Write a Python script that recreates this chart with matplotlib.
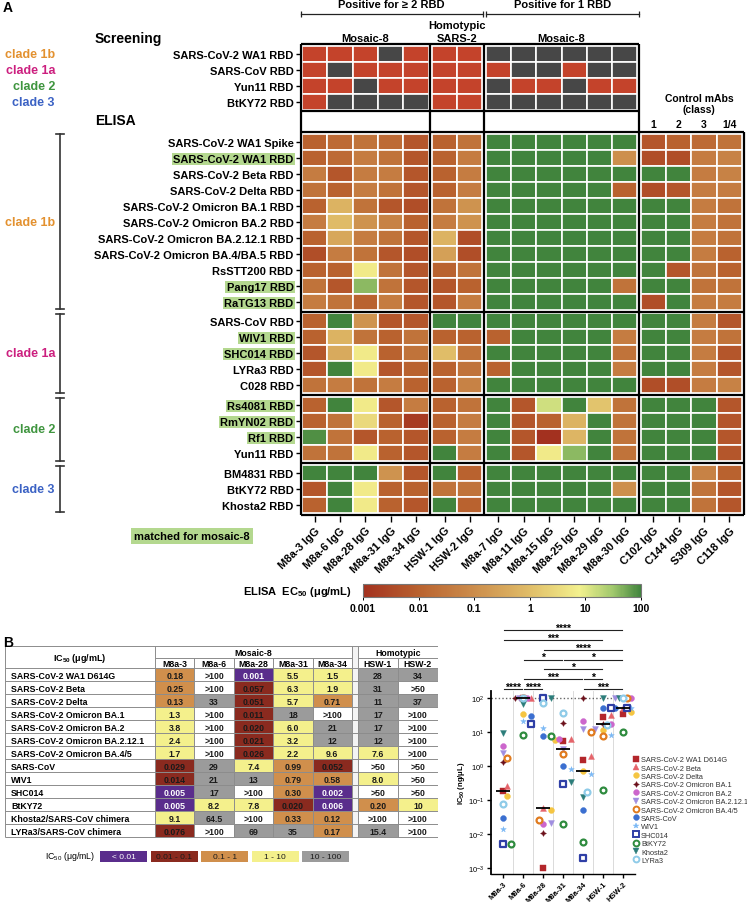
import numpy as np
import matplotlib
matplotlib.use('Agg')
import matplotlib.pyplot as plt
import matplotlib.transforms as mtransforms
from matplotlib.patches import Rectangle
from matplotlib.colors import LinearSegmentedColormap, LogNorm
from matplotlib.cm import ScalarMappable
from matplotlib.lines import Line2D

plt.rcParams['font.family'] = ['Liberation Sans', 'DejaVu Sans']
plt.rcParams['mathtext.fontset'] = 'custom'
plt.rcParams['mathtext.rm'] = 'Liberation Sans'
plt.rcParams['mathtext.bf'] = 'Liberation Sans:bold'
plt.rcParams['mathtext.it'] = 'Liberation Sans:italic'

# ---------------- panel A data ----------------
antibodies = ['M8a-3', 'M8a-6', 'M8a-28', 'M8a-31', 'M8a-34', 'HSW-1', 'HSW-2',
              'M8a-7', 'M8a-11', 'M8a-15', 'M8a-25', 'M8a-29', 'M8a-30',
              'C102', 'C144', 'S309', 'C118']
col_group = [0, 0, 0, 0, 0, 1, 1, 2, 2, 2, 2, 2, 2, 3, 3, 3, 3]
control_class = ['1', '2', '3', '1/4']

screen_rbds = ['SARS-CoV-2 WA1 RBD', 'SARS-CoV RBD', 'Yun11 RBD', 'BtKY72 RBD']
screen_clades = ['clade 1b', 'clade 1a', 'clade 2', 'clade 3']
# 1 = positive in screening, 0 = negative
screen_pos = [
    [1, 1, 1, 0, 1, 1, 1, 0, 0, 0, 0, 0, 0],
    [1, 0, 1, 1, 1, 1, 1, 1, 0, 0, 1, 0, 0],
    [1, 1, 0, 1, 1, 1, 1, 0, 1, 1, 0, 1, 1],
    [1, 0, 0, 0, 0, 1, 1, 0, 0, 0, 0, 0, 0],
]

clade_names = ['clade 1b', 'clade 1a', 'clade 2', 'clade 3']
clade_colors = ['#e3912f', '#cc1f7f', '#3f953f', '#3b62c4']

clade1b_rbds = ['SARS-CoV-2 WA1 Spike', 'SARS-CoV-2 WA1 RBD', 'SARS-CoV-2 Beta RBD',
                'SARS-CoV-2 Delta RBD', 'SARS-CoV-2 Omicron BA.1 RBD',
                'SARS-CoV-2 Omicron BA.2 RBD', 'SARS-CoV-2 Omicron BA.2.12.1 RBD',
                'SARS-CoV-2 Omicron BA.4/BA.5 RBD', 'RsSTT200 RBD', 'Pang17 RBD', 'RaTG13 RBD']
clade1a_rbds = ['SARS-CoV RBD', 'WIV1 RBD', 'SHC014 RBD', 'LYRa3 RBD', 'C028 RBD']
clade2_rbds = ['Rs4081 RBD', 'RmYN02 RBD', 'Rf1 RBD', 'Yun11 RBD']
clade3_rbds = ['BM4831 RBD', 'BtKY72 RBD', 'Khosta2 RBD']
matched_rbds = ['SARS-CoV-2 WA1 RBD', 'Pang17 RBD', 'RaTG13 RBD', 'WIV1 RBD', 'SHC014 RBD',
                'Rs4081 RBD', 'RmYN02 RBD', 'Rf1 RBD']

NB = 100  # no binding (>100 ug/mL)
ec50_clade1b = [
    [0.01, 0.016, 0.025, 0.016, 0.006, 0.01, 0.025, NB, NB, NB, NB, NB, NB, 0.006, 0.01, 0.016, 0.025],
    [0.01, 0.016, 0.04, 0.025, 0.006, 0.01, 0.04, NB, NB, NB, NB, NB, 0.11, 0.004, 0.004, 0.04, 0.056],
    [0.04, 0.006, 0.04, 0.04, 0.006, 0.01, 0.04, NB, NB, NB, NB, NB, NB, NB, NB, 0.04, 0.056],
    [0.025, 0.01, 0.04, 0.025, 0.006, 0.01, 0.04, NB, NB, NB, NB, NB, 0.01, 0.004, 0.006, 0.04, 0.04],
    [0.01, 0.6, 0.025, 0.006, 0.004, 0.025, 0.13, NB, NB, NB, NB, NB, NB, NB, NB, 0.04, 0.025],
    [0.04, 0.9, 0.13, 0.056, 0.01, 0.04, 0.13, NB, NB, NB, NB, NB, NB, NB, NB, 0.04, 0.025],
    [0.01, 0.35, 0.04, 0.025, 0.006, 0.6, 0.004, NB, NB, NB, NB, NB, NB, NB, NB, 0.04, 0.025],
    [0.004, 0.04, 0.025, 0.006, 0.004, 0.25, 0.004, NB, NB, NB, NB, NB, NB, NB, NB, 0.04, 0.01],
    [0.01, 0.01, 6, 0.025, 0.006, 0.01, 0.025, NB, NB, NB, NB, NB, NB, NB, 0.006, 0.025, 0.01],
    [0.025, 0.006, 40, 0.025, 0.006, 0.006, 0.01, NB, NB, NB, NB, NB, 0.025, NB, NB, 0.025, 0.025],
    [0.04, 0.025, 0.01, 0.04, 0.006, 0.006, 0.04, NB, NB, NB, NB, NB, NB, 0.004, NB, 0.04, 0.04],
]
ec50_clade1a = [
    [0.01, NB, 0.13, 0.006, 0.006, NB, NB, NB, NB, NB, NB, NB, NB, NB, NB, 0.04, 0.006],
    [0.01, 0.6, 0.025, 0.01, 0.025, 0.01, 0.01, 0.01, NB, NB, NB, NB, 0.04, NB, NB, 0.04, 0.025],
    [0.006, 0.4, 6, 0.01, 0.025, 1.0, 0.025, NB, NB, NB, NB, NB, 0.025, NB, NB, 0.04, 0.006],
    [0.006, NB, 6, 0.006, 0.01, 0.01, 0.025, 0.01, NB, NB, NB, NB, 0.04, NB, NB, 0.04, 0.006],
    [0.025, 0.04, 0.025, 0.04, 0.01, 0.01, 0.056, NB, NB, NB, NB, NB, NB, 0.004, 0.004, 0.04, 0.056],
]
ec50_clade2 = [
    [0.01, NB, 6, 0.006, 0.04, 0.01, 0.025, NB, 0.006, 14, NB, 1.3, 0.025, NB, NB, NB, 0.006],
    [0.01, 0.025, 3, 0.01, 0.0016, 0.01, 0.04, NB, 0.006, 0.01, 0.6, NB, 0.025, NB, NB, NB, 0.006],
    [80, 0.025, 0.006, 0.01, 0.006, 0.01, 0.04, NB, 0.006, 0.001, 0.7, NB, 0.025, NB, NB, NB, 0.006],
    [0.025, 0.025, 6, 0.01, 0.006, NB, 0.04, NB, 0.006, 6, 40, NB, 0.025, NB, NB, NB, 0.006],
]
ec50_clade3 = [
    [NB, NB, NB, 0.13, 0.006, NB, 0.01, NB, NB, NB, NB, NB, NB, NB, NB, 0.056, 0.01],
    [0.006, NB, 6, 0.01, 0.01, 0.025, 0.025, NB, NB, NB, NB, NB, 0.11, NB, NB, 0.025, 0.006],
    [0.01, NB, 6, 0.01, 0.006, NB, 0.01, NB, NB, NB, NB, NB, NB, NB, NB, 0.025, 0.006],
]

# ---------------- panel B data ----------------
viruses = ['SARS-CoV-2 WA1 D614G', 'SARS-CoV-2 Beta', 'SARS-CoV-2 Delta',
           'SARS-CoV-2 Omicron BA.1', 'SARS-CoV-2 Omicron BA.2',
           'SARS-CoV-2 Omicron BA.2.12.1', 'SARS-CoV-2 Omicron BA.4/5', 'SARS-CoV',
           'WIV1', 'SHC014', 'BtKY72', 'Khosta2/SARS-CoV chimera', 'LYRa3/SARS-CoV chimera']
legend_names = ['SARS-CoV-2 WA1 D614G', 'SARS-CoV-2 Beta', 'SARS-CoV-2 Delta',
                'SARS-CoV-2 Omicron BA.1', 'SARS-CoV-2 Omicron BA.2',
                'SARS-CoV-2 Omicron BA.2.12.1', 'SARS-CoV-2 Omicron BA.4/5', 'SARS-CoV',
                'WIV1', 'SHC014', 'BtKY72', 'Khosta2', 'LYRa3']
neut_abs = ['M8a-3', 'M8a-6', 'M8a-28', 'M8a-31', 'M8a-34', 'HSW-1', 'HSW-2']
ic50_m8a3 = ['0.18', '0.25', '0.13', '1.3', '3.8', '2.4', '1.7', '0.029', '0.014', '0.005', '0.005', '9.1', '0.076']
ic50_m8a6 = ['>100', '>100', '33', '>100', '>100', '>100', '>100', '29', '21', '17', '8.2', '64.5', '>100']
ic50_m8a28 = ['0.001', '0.057', '0.051', '0.011', '0.020', '0.021', '0.026', '7.4', '13', '>100', '7.8', '>100', '69']
ic50_m8a31 = ['5.5', '6.3', '5.7', '18', '6.0', '3.2', '2.2', '0.99', '0.79', '0.30', '0.020', '0.33', '35']
ic50_m8a34 = ['1.5', '1.9', '0.71', '>100', '21', '12', '9.6', '0.052', '0.58', '0.002', '0.006', '0.12', '0.17']
ic50_hsw1 = ['28', '31', '11', '17', '17', '12', '7.6', '>50', '8.0', '>50', '0.20', '>100', '15.4']
ic50_hsw2 = ['34', '>50', '37', '>100', '>100', '>100', '>100', '>50', '>50', '>50', '10', '>100', '>100']
ic50_cols = [ic50_m8a3, ic50_m8a6, ic50_m8a28, ic50_m8a31, ic50_m8a34, ic50_hsw1, ic50_hsw2]

bin_labels = ['< 0.01', '0.01 - 0.1', '0.1 - 1', '1 - 10', '10 - 100']
bin_colors = ['#5a2d8c', '#8a2a1f', '#d08f4c', '#f4f08c', '#9b9b9b']

# significance bars: (level from bottom, col i, col j, stars)
sig_bars = [(0, 0, 1, '****'), (0, 1, 2, '****'), (0, 4, 6, '***'),
            (1, 1, 4, '***'), (1, 4, 5, '*'), (2, 2, 5, '*'),
            (3, 1, 3, '*'), (3, 3, 6, '*'), (4, 2, 6, '****'),
            (5, 0, 5, '***'), (6, 0, 6, '****')]

# marker styles for the scatter: marker, face, edge
marker_styles = [('s', '#b3262b', '#b3262b'), ('^', '#e5646a', '#e5646a'),
                 ('o', '#f5c542', '#f5c542'), ((4, 1, 0), '#6b0f1a', '#6b0f1a'),
                 ('o', '#cc66cc', '#cc66cc'), ('v', '#a08ee0', '#a08ee0'),
                 ('o', 'white', '#e07b1f'), ('o', '#3b6fd0', '#3b6fd0'),
                 ('*', '#7ab8f5', '#7ab8f5'), ('s', 'white', '#2f3fa6'),
                 ('o', 'white', '#2e8b3e'), ('v', '#2c7d7a', '#2c7d7a'),
                 ('o', 'white', '#8fcbe8')]

# ---------------- figure ----------------
W, H = 747, 903
fig = plt.figure(figsize=(W / 100, H / 100), dpi=100)


def px_axes(x0, y0, x1, y1):
    return fig.add_axes([x0 / W, 1 - y1 / H, (x1 - x0) / W, (y1 - y0) / H])


ec50_cmap = LinearSegmentedColormap.from_list(
    'ec50', [(0.0, '#a3311f'), (0.2, '#b9622f'), (0.4, '#cc8d4c'), (0.6, '#e0bd68'),
             (0.78, '#f3f18e'), (0.9, '#a0c86c'), (1.0, '#41843d')])
ec50_norm = LogNorm(1e-3, 1e2)

# column positions with small gaps between groups
gap = 0.13
colx = [i + gap * g for i, g in enumerate(col_group)]
bounds = [colx[0] - gap / 2]
for i in range(1, len(colx)):
    if col_group[i] != col_group[i - 1]:
        bounds.append((colx[i - 1] + 1 + colx[i]) / 2)
bounds.append(colx[-1] + 1 + gap / 2)

axh = px_axes(300.5, 43.8, 743.5, 517.4)
axh.set_xlim(bounds[0], bounds[-1])
axh.set_ylim(29.4, -0.2)
for s in axh.spines.values():
    s.set_visible(False)

# screening cells
for r, row in enumerate(screen_pos):
    for c, v in enumerate(row):
        axh.add_patch(Rectangle((colx[c], r), 1, 1, facecolor='#c4432b' if v else '#474747',
                                edgecolor='white', lw=1.2))

# ELISA cells
elisa_groups = [(clade1b_rbds, ec50_clade1b), (clade1a_rbds, ec50_clade1a),
                (clade2_rbds, ec50_clade2), (clade3_rbds, ec50_clade3)]
elisa_top = 5.48
rgap = 0.23
ytick_pos = [r + 0.5 for r in range(len(screen_rbds))]
ytick_lab = list(screen_rbds)
group_spans = []
n = 0
for g, (names, vals) in enumerate(elisa_groups):
    y_first = elisa_top + n + rgap * g
    for r, row in enumerate(vals):
        y = y_first + r
        for c, v in enumerate(row):
            axh.add_patch(Rectangle((colx[c], y), 1, 1, facecolor=ec50_cmap(ec50_norm(v)),
                                    edgecolor='white', lw=1.2))
        ytick_pos.append(y + 0.5)
        ytick_lab.append(names[r])
    group_spans.append((y_first, y_first + len(vals)))
    n += len(vals)

# black frames
lw_box = 1.6
axh.vlines(bounds[:4], -0.115, group_spans[0][0] - rgap / 2, color='black', lw=lw_box, clip_on=False)
axh.hlines([-0.115, 4.06], bounds[0], bounds[3], color='black', lw=lw_box, clip_on=False)
hl = [group_spans[0][0] - rgap / 2] + [sp[1] + rgap / 2 for sp in group_spans]
axh.vlines(bounds, hl[0], hl[-1], color='black', lw=lw_box, clip_on=False)
axh.hlines(hl, bounds[0], bounds[-1], color='black', lw=lw_box, clip_on=False)

# row labels
axh.set_yticks(ytick_pos)
axh.set_yticklabels(ytick_lab)
axh.tick_params(axis='y', length=3.5, width=1, pad=1.5, labelsize=8)
for k, lab in enumerate(axh.get_yticklabels()):
    lab.set_fontweight('bold')
    if k >= len(screen_rbds) and ytick_lab[k] in matched_rbds:
        lab.set_bbox(dict(facecolor='#b4d88f', edgecolor='none', pad=0.8))

axh.set_xticks([x + 0.5 for x in colx])
axh.set_xticklabels([a + ' IgG' for a in antibodies], rotation=45, ha='right',
                    rotation_mode='anchor', fontweight='bold')
axh.tick_params(axis='x', length=4, width=1, pad=2, labelsize=8)

# top annotations
def bracket(x0, x1, y, text):
    axh.plot([x0, x1], [y, y], color='#222', lw=0.9, clip_on=False)
    axh.vlines([x0, x1], y - 0.2, y + 0.2, color='#222', lw=0.9, clip_on=False)
    axh.text((x0 + x1) / 2, y - 0.6, text, ha='center', va='center', fontsize=8,
             fontweight='bold')


bracket(bounds[0], bounds[2] - 0.06, -2.0, 'Positive for ≥ 2 RBD')
bracket(bounds[2] + 0.06, bounds[3], -2.0, 'Positive for 1 RBD')
homo_x = (colx[5] + colx[6] + 1) / 2
axh.text(homo_x, -1.3, 'Homotypic', ha='center', va='center', fontsize=8, fontweight='bold')
axh.text(homo_x, -0.5, 'SARS-2', ha='center', va='center', fontsize=8, fontweight='bold')
axh.text((colx[0] + colx[4] + 1) / 2, -0.5, 'Mosaic-8', ha='center', va='center',
         fontsize=8, fontweight='bold')
axh.text((colx[7] + colx[12] + 1) / 2, -0.5, 'Mosaic-8', ha='center', va='center',
         fontsize=8, fontweight='bold')
ctrl_x = (colx[13] + colx[16] + 1) / 2 + 0.3
axh.text(ctrl_x, 3.25, 'Control mAbs', ha='center', va='center', fontsize=7.5, fontweight='bold')
axh.text(ctrl_x, 3.95, '(class)', ha='center', va='center', fontsize=7.5, fontweight='bold')
for k, cl in enumerate(control_class):
    axh.text(colx[13 + k] + 0.5, 4.875, cl, ha='center', va='center', fontsize=7.5,
             fontweight='bold')

fig.text(3 / W, 1 - 8 / H, 'A', fontsize=10, fontweight='bold', va='center')
fig.text(95 / W, 1 - 39 / H, 'Screening', fontsize=10, fontweight='bold', va='center')
fig.text(95 / W, 1 - 121 / H, 'ELISA', fontsize=10, fontweight='bold', va='center')

tr = mtransforms.blended_transform_factory(fig.transFigure, axh.transData)
for r, cl in enumerate(screen_clades):
    k = clade_names.index(cl)
    axh.text(55 / W, r + 0.5, cl, transform=tr, fontsize=9, fontweight='bold',
             color=clade_colors[k], ha='right', va='center')
xb = 59.5 / W
for k, (y0, y1) in enumerate(group_spans):
    y0b = y0 if k == 0 else y0 + 0.05
    axh.plot([xb, xb], [y0b, y1 - 0.02], transform=tr, color='#333', lw=1.2, clip_on=False)
    axh.plot([xb - 4 / W, xb + 4 / W], [y0b, y0b], transform=tr, color='#333', lw=1.2, clip_on=False)
    axh.plot([xb - 4 / W, xb + 4 / W], [y1 - 0.02, y1 - 0.02], transform=tr, color='#333', lw=1.2,
             clip_on=False)
    axh.text(55 / W, (y0 + y1) / 2, clade_names[k], transform=tr, fontsize=9,
             fontweight='bold', color=clade_colors[k], ha='right', va='center')

fig.text(192 / W, 1 - 537 / H, 'matched for mosaic-8', ha='center', va='center', fontsize=8,
         fontweight='bold', bbox=dict(facecolor='#b4d88f', edgecolor='none', pad=2.5))

# colour bar
cax = px_axes(363, 585, 641, 598)
cb = fig.colorbar(ScalarMappable(norm=ec50_norm, cmap=ec50_cmap), cax=cax, orientation='horizontal')
cb.set_ticks([1e-3, 1e-2, 1e-1, 1, 10, 100])
cb.set_ticklabels(['0.001', '0.01', '0.1', '1', '10', '100'])
cax.minorticks_off()
cax.tick_params(labelsize=7.5, length=2.5, width=0.7, pad=2)
for lab in cax.get_xticklabels():
    lab.set_fontweight('bold')
cb.outline.set_edgecolor('#777')
cb.outline.set_linewidth(0.8)
fig.text(352 / W, 1 - 592 / H, r'ELISA  EC$_{\mathbf{50}}$ (μg/mL)', ha='right',
         va='center', fontsize=8, fontweight='bold')

# ---------------- panel B table ----------------
fig.text(3 / W, 1 - 643 / H, 'B', fontsize=10, fontweight='bold', va='center')


def parse_ic50(s):
    return float(s.lstrip('>'))


def bin_color(s):
    if s.startswith('>'):
        return 'white'
    v = float(s)
    if v < 0.01:
        return bin_colors[0]
    if v < 0.1:
        return bin_colors[1]
    if v < 1:
        return bin_colors[2]
    if v <= 10:
        return bin_colors[3]
    return bin_colors[4]


axt = px_axes(5, 647, 438, 866)
axt.set_xlim(0, 433)
axt.set_ylim(219, 0)
axt.axis('off')
lab_w, m_w, gap_w, h_w = 150, 39.4, 6, 40
col_x0 = [lab_w + m_w * k for k in range(5)] + [lab_w + 5 * m_w + gap_w + h_w * k for k in range(2)]
col_w = [m_w] * 5 + [h_w] * 2
h1, h2, rh = 12, 22.3, 13.0
bottom = h2 + rh * len(viruses)
m_end = col_x0[4] + m_w
h_start = col_x0[5]
axt.add_patch(Rectangle((m_end, 0), gap_w, bottom, facecolor='#f4f4f4', edgecolor='none'))
for c, col in enumerate(ic50_cols):
    for r, s in enumerate(col):
        y = h2 + rh * r
        fc = bin_color(s)
        axt.add_patch(Rectangle((col_x0[c], y), col_w[c], rh, facecolor=fc, edgecolor='none'))
        tc = 'white' if fc == bin_colors[0] else '#1a1a1a'
        axt.text(col_x0[c] + col_w[c] / 2, y + rh / 2 + 0.3, s, ha='center', va='center',
                 fontsize=6.3, fontweight='bold', color=tc)
for r, v in enumerate(viruses):
    axt.text(6, h2 + rh * r + rh / 2 + 0.3, v, ha='left', va='center', fontsize=6.3,
             fontweight='bold')
gl = dict(color='#8c8c8c', lw=0.7)
axt.hlines([0] + [h2 + rh * r for r in range(len(viruses) + 1)], 0, 433, **gl)
axt.hlines(h1, lab_w, m_end, **gl)
axt.hlines(h1, h_start, 433, **gl)
axt.vlines([0, lab_w, m_end, h_start, 433], 0, bottom, **gl)
axt.vlines([col_x0[k] for k in (1, 2, 3, 4, 6)], h1, bottom, **gl)
axt.text(lab_w / 2, h2 / 2, r'IC$_{\mathbf{50}}$ (μg/mL)', ha='center', va='center',
         fontsize=6.5, fontweight='bold')
axt.text((lab_w + m_end) / 2, h1 / 2 + 0.3, 'Mosaic-8', ha='center', va='center', fontsize=6.3,
         fontweight='bold')
axt.text((h_start + 433) / 2, h1 / 2 + 0.3, 'Homotypic', ha='center', va='center', fontsize=6.3,
         fontweight='bold')
for c, a in enumerate(neut_abs):
    axt.text(col_x0[c] + col_w[c] / 2, (h1 + h2) / 2 + 0.3, a, ha='center', va='center',
             fontsize=6.3, fontweight='bold')
# colour key
axt.text(90, 210, r'IC$_{50}$ (μg/mL)', ha='right', va='center', fontsize=6.3)
for k, (bl, bc) in enumerate(zip(bin_labels, bin_colors)):
    x0 = 95 + 50.6 * k
    axt.add_patch(Rectangle((x0, 204.5), 47, 11, facecolor=bc, edgecolor='none', clip_on=False))
    axt.text(x0 + 23.5, 210.3, bl, ha='center', va='center', fontsize=6,
             color='white' if k == 0 else '#1a1a1a')

# ---------------- panel B scatter ----------------
axs = px_axes(490.7, 692, 635, 875)
axs.set_yscale('log')
axs.set_xlim(-0.615, 6.6)
axs.set_ylim(10 ** -3.168, 10 ** 2.197)
for s in ['top', 'right']:
    axs.spines[s].set_visible(False)
axs.spines['left'].set_linewidth(1.3)
axs.spines['bottom'].set_linewidth(1.0)
for xs in np.arange(0.5, 6, 1):
    axs.axvline(xs, color='#d4d4d4', lw=0.6, zorder=0)
axs.axhline(100, color='#666', ls=(0, (1, 1.6)), lw=1.0, zorder=1)
axs.set_yticks([1e-3, 1e-2, 1e-1, 1, 10, 100])
axs.minorticks_off()
axs.tick_params(axis='y', labelsize=5.5, length=3, width=1, pad=1.5)
axs.set_xticks(range(len(neut_abs)))
axs.set_xticklabels(neut_abs, rotation=45, ha='right', rotation_mode='anchor',
                    fontweight='bold', fontsize=5.5)
axs.tick_params(axis='x', length=3, width=1, pad=1.5)
axs.set_ylabel(r'IC$_{\mathbf{50}}$ (ng/μL)', fontsize=5.5, fontweight='bold', labelpad=1)

px_per_dec = 34.0
px_per_col = 20.0


def swarm(vals, step=0.19, min_px=5.2):
    placed, offs = [], []
    for v in vals:
        y = np.log10(v) * px_per_dec
        best, best_d = 0, -1.0
        for k in [0, 1, -1, 2, -2]:
            x = k * step * px_per_col
            d = min([np.hypot(x - a, y - b) for a, b in placed], default=99.0)
            if d >= min_px:
                best = k
                break
            if d > best_d:
                best, best_d = k, d
        offs.append(best * step)
        placed.append((best * step * px_per_col, y))
    return offs


values = [[parse_ic50(s) for s in col] for col in ic50_cols]
offsets = [swarm(v) for v in values]
for vi, (mk, fc, ec) in enumerate(marker_styles):
    xs = [c + offsets[c][vi] for c in range(len(neut_abs))]
    ys = [values[c][vi] for c in range(len(neut_abs))]
    lw = 1.6 if fc == 'white' else 0.3
    axs.scatter(xs, ys, marker=mk, s=18, facecolor=fc, edgecolor=ec, linewidths=lw, zorder=3)
for c in range(len(neut_abs)):
    axs.hlines(np.median(values[c]), c - 0.35, c + 0.35, color='black', lw=1.3, zorder=5)

sig_tr = mtransforms.blended_transform_factory(axs.transData, axs.transAxes)
for lvl, i, j, stars in sig_bars:
    y = 1.011 + 0.0537 * lvl
    axs.plot([i + 0.03, j - 0.03], [y, y], color='#222', lw=0.8, transform=sig_tr, clip_on=False)
    axs.text((i + j) / 2, y - 0.004, stars, transform=sig_tr, ha='center', va='baseline',
             fontsize=7.5, fontweight='bold')

handles = [Line2D([], [], ls='none', marker=mk, markersize=4.2, markerfacecolor=fc,
                  markeredgecolor=ec, markeredgewidth=1.4 if fc == 'white' else 0.3)
           for mk, fc, ec in marker_styles]
axs.legend(handles, legend_names, loc='upper left', bbox_to_anchor=(633 / W, 1 - 757 / H),
           bbox_transform=fig.transFigure, frameon=False, fontsize=5.3, handlelength=0.8,
           handletextpad=0.3, labelspacing=0.17, borderpad=0, borderaxespad=0,
           labelcolor='#333')

fig.savefig('out.png', dpi=100)
